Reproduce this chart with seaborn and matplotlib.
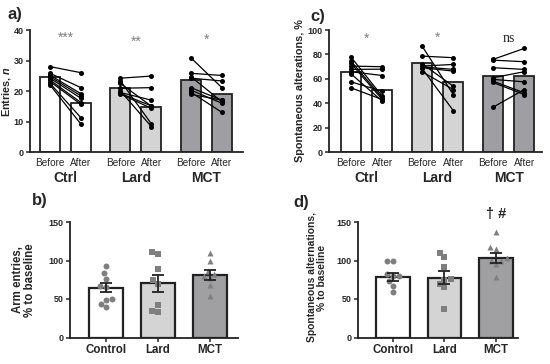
import numpy as np
import pandas as pd
import seaborn as sns
import matplotlib.pyplot as plt

sns.set_style("ticks")
plt.rcParams["font.family"] = ["Liberation Sans", "DejaVu Sans"]
plt.rcParams["mathtext.fontset"] = "custom"
plt.rcParams["mathtext.it"] = "Liberation Sans:italic:bold"

# ---- data ----
groups = ["Ctrl", "Lard", "MCT"]
bar_groups = ["Control", "Lard", "MCT"]
times = ["Before", "After"]
bar_colors = ["#ffffff", "#d4d4d4", "#9f9fa3"]

# a) entries, individual animals (before -> after)
entries_before = {
    "Ctrl": [28, 25.8, 25.2, 24.7, 24.2, 23.6, 23.1, 22.5, 22.0],
    "Lard": [24.2, 23.3, 22.5, 20.9, 20.0, 19.5, 19.2, 19.0],
    "MCT": [30.9, 25.8, 24.7, 24.2, 21.1, 20.3, 19.6, 18.9],
}
entries_after = {
    "Ctrl": [26, 21.1, 19.1, 18.4, 17.6, 16.2, 15.6, 11.2, 9.1],
    "Lard": [24.9, 9.2, 15.0, 21.1, 8.3, 17.0, 15.1, 14.3],
    "MCT": [21.1, 25.1, 16.5, 23.3, 17.0, 16.0, 13.0, 17.0],
}
entries_mean_before = [24.6, 21.1, 23.7]
entries_mean_after = [16.2, 14.6, 19.1]
entries_stars = ["***", "**", "*"]

# c) spontaneous alternations, %
alt_before = {
    "Ctrl": [77.8, 74.5, 72.6, 70.4, 67.7, 65.8, 64.1, 57.5, 52.6],
    "Lard": [86.9, 78.6, 72.4, 70.4, 69.8, 69.1, 68.5, 65.8],
    "MCT": [75.9, 75.3, 69.1, 60.9, 59.5, 58.1, 57.0, 36.7],
}
alt_after = {
    "Ctrl": [45.7, 44.4, 43.0, 69.9, 67.9, 62.7, 41.6, 49.8, 43.0],
    "Lard": [47.1, 77.3, 53.9, 71.8, 67.7, 66.3, 34.0, 51.2],
    "MCT": [84.9, 74.0, 67.7, 65.8, 57.5, 48.5, 47.1, 51.2],
}
alt_mean_before = [65.5, 73.2, 62.5]
alt_mean_after = [51.0, 57.5, 62.0]
alt_stars = ["*", "*", "ns"]

# b) arm entries, % to baseline
arm_points = {
    "Control": [93, 84, 76.5, 67, 66, 50.5, 49, 43, 39],
    "Lard": [111, 109, 89, 75, 70, 42, 35, 33],
    "MCT": [110, 99, 86.5, 83, 80, 77, 68, 54],
}
arm_mean = [64.5, 70.5, 81.5]
arm_sem = [5.8, 11.3, 6.5]

# d) spontaneous alternations, % to baseline
sa_points = {
    "Control": [100, 100, 83, 80, 80, 73, 67, 59],
    "Lard": [110, 105, 92, 76, 75, 70, 65, 37],
    "MCT": [137, 118, 115, 103, 100, 99, 95, 78],
}
sa_mean = [79, 77.5, 103.5]
sa_sem = [5.0, 8.6, 6.6]

markers = ["o", "s", "^"]
point_color = "#7f7f7f"
star_color = "#808080"
OFF = 0.22  # half distance between Before/After bars (in group units)


def style_axis(ax):
    sns.despine(ax=ax)
    for s in ["left", "bottom"]:
        ax.spines[s].set_linewidth(1.3)
        ax.spines[s].set_color("#222222")
    ax.tick_params(axis="y", length=3, width=1.1, pad=1.5, labelsize=6.5)
    for lab in ax.get_yticklabels():
        lab.set_fontweight("bold")


def paired_panel(ax, before, after, mean_b, mean_a, ylim, yticks, ylabel, stars,
                 star_y, xlim):
    means = pd.DataFrame({
        "group": groups * 2,
        "time": ["Before"] * 3 + ["After"] * 3,
        "value": mean_b + mean_a,
    })
    sns.barplot(data=means, x="group", y="value", hue="time", hue_order=times,
                order=groups, width=2 * OFF * 2, gap=0.355, edgecolor="#222222",
                linewidth=1.3, legend=False, ax=ax)
    for p in ax.patches:
        g = int(round(p.get_x() + p.get_width() / 2))
        p.set_facecolor(bar_colors[g])

    rows = []
    for gi, g in enumerate(groups):
        for k, (b, a) in enumerate(zip(before[g], after[g])):
            rows.append({"id": f"{g}{k}", "x": gi - OFF, "v": b})
            rows.append({"id": f"{g}{k}", "x": gi + OFF, "v": a})
    pairs = pd.DataFrame(rows)
    sns.lineplot(data=pairs, x="x", y="v", units="id", estimator=None,
                 color="black", lw=0.9, marker="o", markersize=3.6,
                 markeredgewidth=0, ax=ax)

    ax.set_xlim(*xlim)
    ax.set_ylim(*ylim)
    ax.set_yticks(yticks)
    ax.set_xticks([g + d for g in range(3) for d in (-OFF, OFF)])
    ax.set_xticklabels(times * 3, fontsize=7.2)
    ax.tick_params(axis="x", length=0, pad=4)
    ax.set_xlabel("")
    ax.set_ylabel(ylabel, fontsize=7.8, fontweight="bold")
    style_axis(ax)
    trans = ax.get_xaxis_transform()
    for gi, g in enumerate(groups):
        ax.text(gi, -0.21, g, transform=trans, ha="center", va="center",
                fontsize=10, fontweight="bold")
    for gi, s in enumerate(stars):
        if s == "ns":
            ax.text(gi, star_y[gi], s, transform=trans, ha="center", va="center",
                    fontsize=10, family="Liberation Serif", color="#222222")
        else:
            ax.text(gi, star_y[gi], s, transform=trans, ha="center", va="center",
                    fontsize=10, color=star_color)


def ratio_panel(ax, points, mean, sem, ylabel, label_size, xlim):
    df = pd.DataFrame({"group": bar_groups, "value": mean})
    sns.barplot(data=df, x="group", y="value", hue="group", palette=bar_colors,
                order=bar_groups, width=0.65, edgecolor="#222222", linewidth=1.6,
                legend=False, ax=ax)
    for gi, g in enumerate(bar_groups):
        pts = pd.DataFrame({"group": g, "value": points[g]})
        sns.swarmplot(data=pts, x="group", y="value", order=bar_groups,
                      color=point_color, marker=markers[gi], size=4.3, ax=ax)
    ax.errorbar(range(3), mean, yerr=sem, fmt="none", ecolor="#222222",
                elinewidth=1.3, capsize=4, capthick=1.3, zorder=5)
    ax.set_xlim(*xlim)
    ax.set_ylim(0, 150)
    ax.set_yticks([0, 50, 100, 150])
    ax.set_xlabel("")
    ax.set_ylabel(ylabel, fontsize=label_size, fontweight="bold", linespacing=1.05)
    ax.tick_params(axis="x", length=3, width=1.1, labelsize=8.3, pad=2)
    for lab in ax.get_xticklabels():
        lab.set_fontweight("bold")
    style_axis(ax)


fig = plt.figure(figsize=(5.5, 3.64), dpi=100)
ax_a = fig.add_axes([30 / 550, 1 - 152 / 364, 213 / 550, 122 / 364])
ax_c = fig.add_axes([329 / 550, 1 - 152 / 364, 213 / 550, 122 / 364])
ax_b = fig.add_axes([70 / 550, 1 - 337.5 / 364, 168 / 550, 115.5 / 364])
ax_d = fig.add_axes([357.7 / 550, 1 - 337.5 / 364, 160 / 550, 115.5 / 364])

paired_panel(ax_a, entries_before, entries_after, entries_mean_before,
             entries_mean_after, (0, 40), [0, 10, 20, 30, 40],
             "Entries, $\\it{n}$", entries_stars, [0.94, 0.90, 0.92],
             (-0.504, 2.52))
paired_panel(ax_c, alt_before, alt_after, alt_mean_before, alt_mean_after,
             (0, 100), [0, 20, 40, 60, 80, 100],
             "Spontaneous alterations, %", alt_stars, [0.93, 0.94, 0.93],
             (-0.53, 2.47))
ratio_panel(ax_b, arm_points, arm_mean, arm_sem,
            "Arm entries,\n% to baseline", 8.3, (-0.69, 2.54))
ratio_panel(ax_d, sa_points, sa_mean, sa_sem,
            "Spontaneous alternations,\n% to baseline", 7.4, (-0.68, 2.42))

ax_a.yaxis.set_label_coords(-0.082, 0.5)
ax_c.yaxis.set_label_coords(-0.112, 0.5)
ax_b.yaxis.set_label_coords(-0.2, 0.5)
ax_d.yaxis.set_label_coords(-0.19, 0.52)

ax_d.text(2, 160, "\u2020 #", ha="center", va="center", fontsize=10.5,
          fontweight="bold", clip_on=False)

for lbl, x, y in [("a)", 7, 15), ("c)", 310, 16), ("b)", 32, 200), ("d)", 293, 202)]:
    fig.text(x / 550, 1 - y / 364, lbl, fontsize=12, fontweight="bold",
             ha="left", va="center")

fig.savefig("out.png", dpi=100)
